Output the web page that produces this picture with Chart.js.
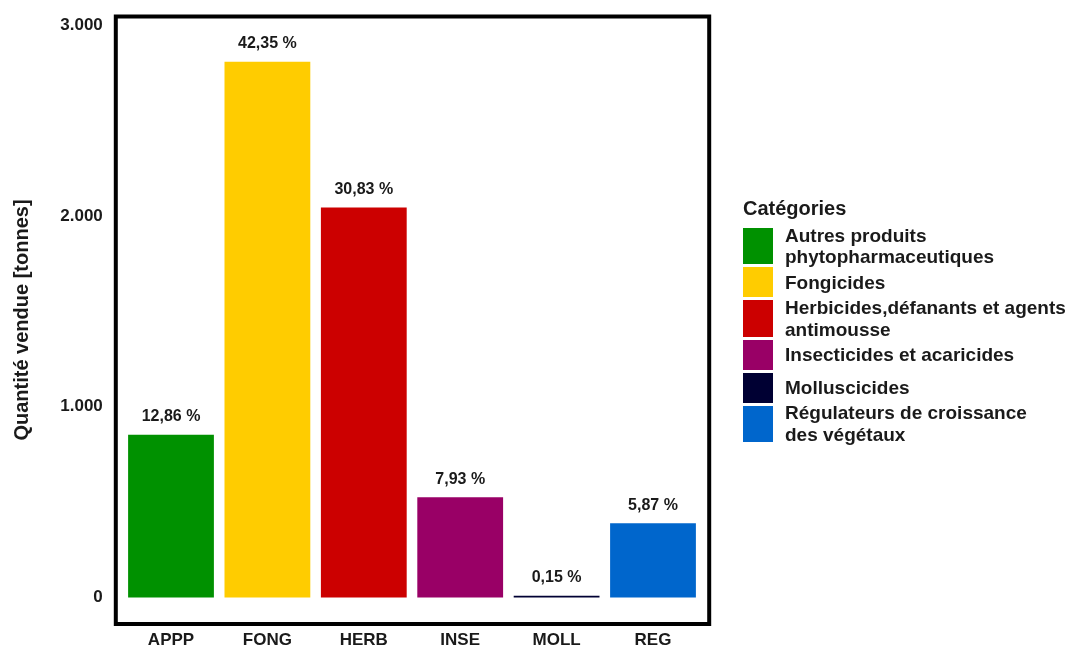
<!DOCTYPE html>
<html lang="fr">
<head>
<meta charset="utf-8">
<title>Quantité vendue par catégorie</title>
<script src="https://cdn.jsdelivr.net/npm/chart.js@4.4.1/dist/chart.umd.min.js"></script>
<style>
    html, body { margin: 0; padding: 0; background: #ffffff; }
    #wrap { position: relative; width: 1069px; height: 649px; }
    #chart { position: absolute; left: 0; top: 0; }
    .legend {
        position: absolute;
        left: 743px;
        top: 196px;
        font-family: "Liberation Sans", Arial, sans-serif;
        font-weight: bold;
        color: #1a1a1a;
        white-space: nowrap;
    }
    .legend-title { font-size: 20px; line-height: 24px; height: 30.8px; }
    .legend-row { position: relative; display: flex; align-items: center; }
    .legend-row .swatch { position: absolute; left: 0; top: 1.5px; bottom: 1.5px; width: 30px; }
    .legend-row .label { margin-left: 42px; font-size: 19px; line-height: 21.6px; }
</style>
</head>
<body>
<div id="wrap">
    <canvas id="chart" width="1069" height="649"></canvas>
    <div class="legend" id="legend">
        <div class="legend-title">Catégories</div>
    </div>
</div>
<script>
// Quantités vendues par catégorie (tonnes)
const codes = ['APPP', 'FONG', 'HERB', 'INSE', 'MOLL', 'REG'];
const categoryNames = [
    ['Autres produits', 'phytopharmaceutiques'],
    ['Fongicides'],
    ['Herbicides,défanants et agents', 'antimousse'],
    ['Insecticides et acaricides'],
    ['Molluscicides'],
    ['Régulateurs de croissance', 'des végétaux']
];
const tonnes = [852.6, 2807.8, 2044.0, 525.8, 9.9, 389.2];
const colors = ['#009100', '#ffcc00', '#cc0000', '#990066', '#000033', '#0066cc'];
const yTicks = [0, 1000, 2000, 3000];

const FONT = '"Liberation Sans", Arial, sans-serif';
const total = tonnes.reduce((a, b) => a + b, 0);
const shares = tonnes.map(v => (v / total * 100).toFixed(2).replace('.', ',') + ' %');

// thousands separator as a dot: 3000 -> 3.000
const fmtThousands = v => String(v).replace(/\B(?=(\d{3})+(?!\d))/g, '.');

// Legend (HTML, two-line entries get a taller row)
const legend = document.getElementById('legend');
categoryNames.forEach((lines, i) => {
    const row = document.createElement('div');
    row.className = 'legend-row';
    row.style.height = (lines.length > 1 ? 39.2 : 33) + 'px';
    const sw = document.createElement('div');
    sw.className = 'swatch';
    sw.style.background = colors[i];
    const lab = document.createElement('div');
    lab.className = 'label';
    lines.forEach((t, j) => {
        if (j > 0) lab.appendChild(document.createElement('br'));
        lab.appendChild(document.createTextNode(t));
    });
    row.appendChild(sw);
    row.appendChild(lab);
    legend.appendChild(row);
});

// Black frame around the plotting panel
const framePlugin = {
    id: 'frame',
    afterDraw(chart) {
        const { ctx, chartArea: a } = chart;
        ctx.save();
        ctx.strokeStyle = '#000000';
        ctx.lineWidth = 4;
        ctx.strokeRect(a.left - 7, a.top - 1.5, (a.right + 8) - (a.left - 7), (a.bottom + 2) - (a.top - 1.5));
        ctx.restore();
    }
};

// Percentage labels above each bar
const shareLabels = {
    id: 'shareLabels',
    afterDatasetsDraw(chart) {
        const { ctx } = chart;
        const meta = chart.getDatasetMeta(0);
        ctx.save();
        ctx.font = 'bold 16px ' + FONT;
        ctx.fillStyle = '#1a1a1a';
        ctx.textAlign = 'center';
        ctx.textBaseline = 'middle';
        meta.data.forEach((bar, i) => {
            ctx.fillText(shares[i], bar.x, bar.y - 18);
        });
        ctx.restore();
    }
};

new Chart(document.getElementById('chart'), {
    type: 'bar',
    data: {
        labels: codes,
        datasets: [{
            data: tonnes,
            backgroundColor: colors,
            borderWidth: 0,
            barPercentage: 0.89,
            categoryPercentage: 1
        }]
    },
    options: {
        responsive: false,
        animation: false,
        layout: { padding: { left: 0, right: 367.8, top: 18, bottom: 0 } },
        plugins: {
            legend: { display: false },
            tooltip: { enabled: false }
        },
        scales: {
            x: {
                grid: { display: false, drawTicks: false },
                border: { display: false },
                ticks: {
                    color: '#1a1a1a',
                    padding: 8,
                    font: { family: FONT, size: 17, weight: 'bold' }
                },
                afterFit(s) {
                    s.height = 27;
                    s.paddingLeft = 0;
                    s.paddingRight = 0;
                }
            },
            y: {
                min: -128,
                max: 3037,
                grid: { display: false, drawTicks: false },
                border: { display: false },
                afterBuildTicks(s) { s.ticks = yTicks.map(v => ({ value: v })); },
                afterFit(s) {
                    s.width = 122.8;
                    s.paddingTop = 0;
                    s.paddingBottom = 0;
                },
                ticks: {
                    color: '#1a1a1a',
                    padding: 20,
                    font: { family: FONT, size: 17, weight: 'bold' },
                    callback: v => fmtThousands(v)
                },
                title: {
                    display: true,
                    text: 'Quantité vendue [tonnes]',
                    color: '#1a1a1a',
                    padding: { top: 10, bottom: 0 },
                    font: { family: FONT, size: 20, weight: 'bold' }
                }
            }
        }
    },
    plugins: [framePlugin, shareLabels]
});
</script>
</body>
</html>
